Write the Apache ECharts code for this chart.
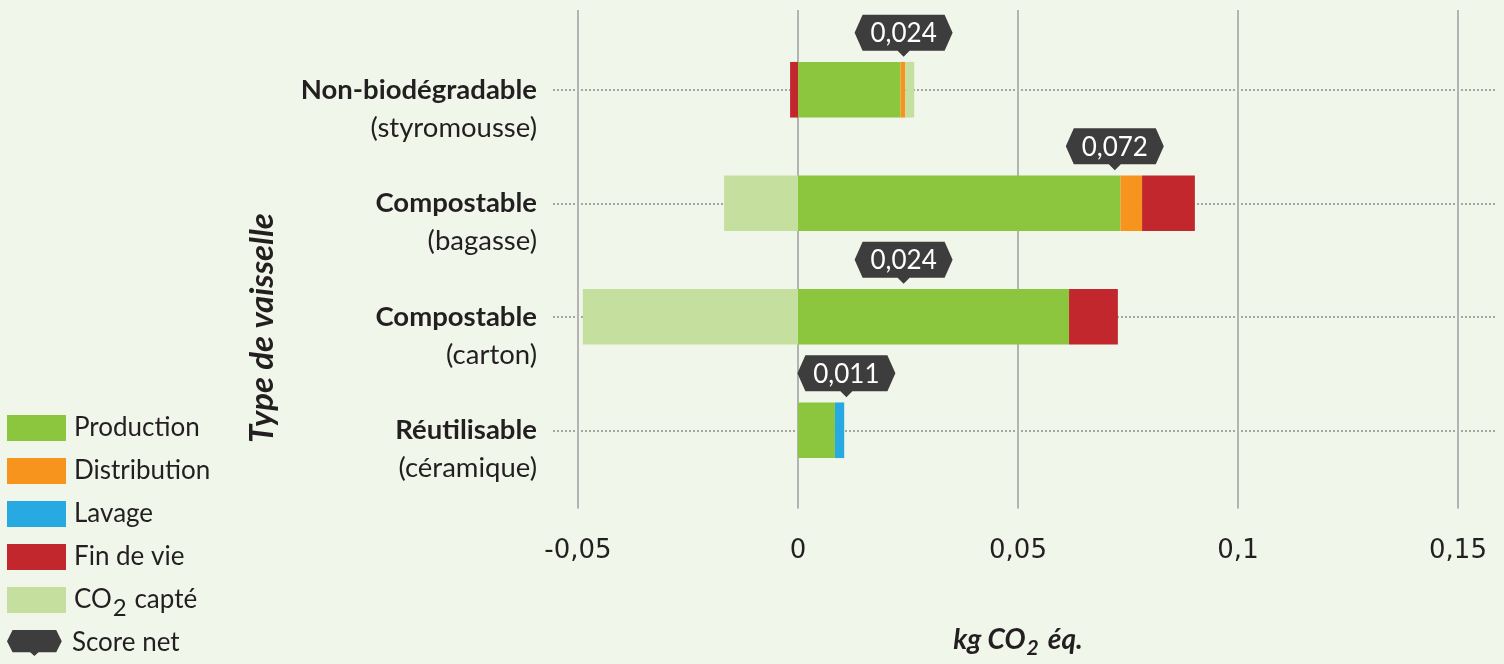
<!DOCTYPE html>
<html>
<head>
<meta charset="utf-8">
<script src="https://cdn.jsdelivr.net/npm/echarts@6/dist/echarts.min.js"></script>
<style>
  html, body { margin: 0; padding: 0; background: #f1f6ea; }
  #chart { width: 1504px; height: 664px; }
</style>
</head>
<body>
<div id="chart"></div>
<script>
// Dish types (bold line) and material (second line)
const categories = ['Non-biodégradable', 'Compostable', 'Compostable', 'Réutilisable'];
const materials = ['(styromousse)', '(bagasse)', '(carton)', '(céramique)'];

// Life-cycle contributions, kg CO2 eq. per item
const production   = [0.0233, 0.0733, 0.0616, 0.0084];
const distribution = [0.0011, 0.0049, null, null];
const lavage       = [null, null, null, 0.0021];
const finDeVie     = [-0.0018, 0.0120, 0.0111, null];
const co2Capte     = [0.0020, -0.0168, -0.0489, null];

// Net score shown in the dark badges
const scoreNet = [0.024, 0.072, 0.024, 0.011];

const COLORS = {
  production: '#8cc63f',
  distribution: '#f7941d',
  lavage: '#27aae1',
  finDeVie: '#c1272d',
  co2: '#c5e09e',
  badge: '#3d3d3d'
};
const INK = '#231f20';
const CO2_NAME = 'CO2 capté';
const BADGE_ICON = 'path://M0,12L6,0L53,0L59,12L53,24L34,24L29.5,28L25,24L6,24Z';

const fmt = v => String(+v.toFixed(4)).replace('.', ',');

const chart = echarts.init(document.getElementById('chart'), null, { renderer: 'canvas' });

// Dark hexagonal badge with a small pointer, sitting above the bar at the net value
function renderBadge(params, api) {
  const v = api.value(0);
  const p = api.coord([v, api.value(1)]);
  const x = p[0];
  const tip = p[1] - 33;
  const w = 98, h = 36, s = 8, pw = 6, ph = 6;
  const b = tip - ph;
  const t = b - h;
  const pts = [
    [x - w / 2, t + h / 2], [x - w / 2 + s, t], [x + w / 2 - s, t], [x + w / 2, t + h / 2],
    [x + w / 2 - s, b], [x + pw, b], [x, tip], [x - pw, b], [x - w / 2 + s, b]
  ];
  return {
    type: 'group',
    children: [
      { type: 'polygon', shape: { points: pts }, style: { fill: COLORS.badge } },
      {
        type: 'text',
        style: {
          text: fmt(v), x: x, y: t + h / 2 + 1,
          align: 'center', verticalAlign: 'middle',
          fill: '#ffffff', font: '26px Lato'
        }
      }
    ]
  };
}

const barBase = {
  type: 'bar',
  stack: 'total',
  xAxisIndex: 1,
  yAxisIndex: 1,
  barWidth: '49%',
  emphasis: { disabled: true }
};

// Shared legend look; split in three blocks so the subscripted entry keeps the rhythm
const legendBase = {
  orient: 'vertical',
  left: 7,
  padding: 0,
  itemWidth: 59,
  itemHeight: 26,
  itemGap: 17,
  selectedMode: false,
  formatter: name => name === CO2_NAME ? '{t|CO}{sub|2}{t| capté}' : '{t|' + name + '}',
  textStyle: {
    padding: [0, 0, 0, 3],
    rich: {
      t: { fontFamily: 'Lato', fontSize: 26, color: INK, lineHeight: 26 },
      sub: { fontFamily: 'Lato', fontSize: 24, color: INK, lineHeight: 2, padding: [16, 1, 0, 1] }
    }
  }
};

const option = {
  backgroundColor: '#f1f6ea',
  animation: false,
  textStyle: { fontFamily: 'Lato' },
  legend: [
    Object.assign({}, legendBase, {
      top: 415,
      data: [
        { name: 'Production', icon: 'rect' },
        { name: 'Distribution', icon: 'rect' },
        { name: 'Lavage', icon: 'rect' },
        { name: 'Fin de vie', icon: 'rect' }
      ]
    }),
    Object.assign({}, legendBase, { top: 580, data: [{ name: CO2_NAME, icon: 'rect' }] }),
    Object.assign({}, legendBase, { top: 630, data: [{ name: 'Score net', icon: BADGE_ICON }] })
  ],
  grid: [
    // reference grid: vertical lines + x labels
    { left: 578, right: 46, top: 10, bottom: 151 },
    // bars
    { left: 578, right: 46, top: 33, bottom: 177 },
    // dotted row guides
    { left: 553, right: 9, top: 90, bottom: 233.5 }
  ],
  xAxis: [
    {
      gridIndex: 0,
      type: 'value',
      min: -0.05,
      max: 0.15,
      interval: 0.05,
      axisLine: { show: false },
      axisTick: { show: false },
      splitLine: { show: true, lineStyle: { color: '#b3b3b3', width: 2 } },
      axisLabel: {
        margin: 30,
        color: INK,
        fontFamily: 'DejaVu Sans',
        fontSize: 26,
        formatter: v => fmt(v)
      },
      name: '{a|kg CO}{s|2}{a| éq.}',
      nameLocation: 'middle',
      nameGap: 116,
      nameTextStyle: {
        rich: {
          a: { fontFamily: 'Lato', fontWeight: 'bold', fontStyle: 'italic', fontSize: 28, color: INK, lineHeight: 30 },
          s: { fontFamily: 'Lato', fontWeight: 'bold', fontStyle: 'italic', fontSize: 21, color: INK, lineHeight: 2, padding: [18, 3, 0, 1] }
        }
      }
    },
    { gridIndex: 1, type: 'value', min: -0.05, max: 0.15, show: false },
    { gridIndex: 2, type: 'value', min: 0, max: 1, show: false }
  ],
  yAxis: [
    { gridIndex: 0, type: 'value', show: false },
    {
      gridIndex: 1,
      type: 'category',
      inverse: true,
      data: categories.map((c, i) => c + ' ' + materials[i]),
      axisLine: { show: false },
      axisTick: { show: false },
      splitLine: { show: false },
      axisLabel: {
        margin: 41,
        verticalAlign: 'middle',
        padding: [38, 0, 0, 0],
        formatter: (v, i) => '{a|' + categories[i] + '}\n{b|' + materials[i] + '}',
        rich: {
          a: { fontFamily: 'Lato', fontWeight: 'bold', fontSize: 27.5, color: INK, lineHeight: 38, align: 'right' },
          b: { fontFamily: 'Lato', fontSize: 27.5, color: INK, lineHeight: 38, align: 'right' }
        }
      }
    },
    {
      gridIndex: 2,
      type: 'category',
      inverse: true,
      boundaryGap: false,
      data: categories.map((c, i) => c + ' ' + materials[i]),
      axisLine: { show: false },
      axisTick: { show: false },
      axisLabel: { show: false },
      splitLine: { show: true, interval: 0, lineStyle: { color: '#8c8c8c', width: 1.5, type: [2, 2] } }
    }
  ],
  graphic: [
    {
      type: 'text',
      x: 262,
      y: 328,
      rotation: Math.PI / 2,
      style: {
        text: 'Type de vaisselle',
        align: 'center',
        verticalAlign: 'middle',
        fill: INK,
        font: 'italic bold 33px Lato'
      }
    }
  ],
  series: [
    Object.assign({}, barBase, { name: 'Production', data: production, itemStyle: { color: COLORS.production } }),
    Object.assign({}, barBase, { name: 'Distribution', data: distribution, itemStyle: { color: COLORS.distribution } }),
    Object.assign({}, barBase, { name: 'Lavage', data: lavage, itemStyle: { color: COLORS.lavage } }),
    Object.assign({}, barBase, { name: 'Fin de vie', data: finDeVie, itemStyle: { color: COLORS.finDeVie } }),
    Object.assign({}, barBase, { name: CO2_NAME, data: co2Capte, itemStyle: { color: COLORS.co2 } }),
    {
      type: 'custom',
      name: 'Score net',
      xAxisIndex: 1,
      yAxisIndex: 1,
      itemStyle: { color: COLORS.badge },
      encode: { x: 0, y: 1 },
      z: 5,
      renderItem: renderBadge,
      data: scoreNet.map((v, i) => [v, i])
    }
  ]
};

chart.setOption(option);
</script>
</body>
</html>
